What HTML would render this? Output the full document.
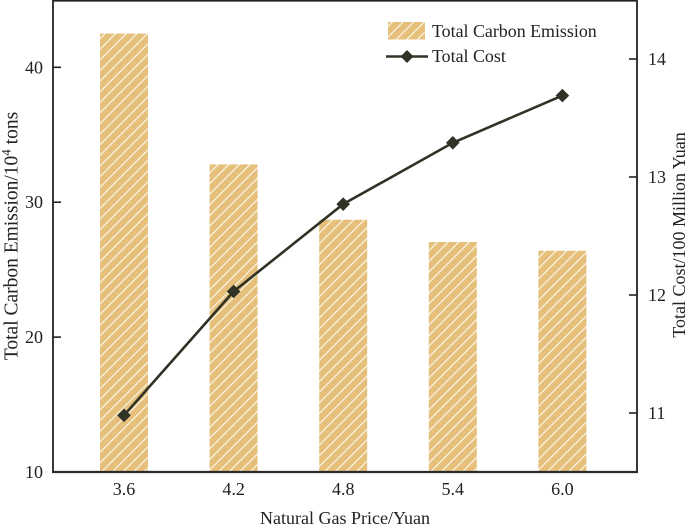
<!DOCTYPE html>
<html>
<head>
<meta charset="utf-8">
<style>
html,body{margin:0;padding:0;background:#fff;width:685px;height:525px;overflow:hidden}
svg{display:block}
text{font-family:"Liberation Serif",serif;fill:#222}
</style>
</head>
<body>
<svg id="chart" width="685" height="525" viewBox="0 0 685 525" xmlns="http://www.w3.org/2000/svg">
<defs>
<pattern id="hatch" patternUnits="userSpaceOnUse" width="10" height="10" patternTransform="rotate(45) scale(0.75)">
<rect width="10" height="10" fill="#e6c07b"/>
<rect x="0" y="0" width="1.5" height="10" fill="#fdf8ee"/>
</pattern>
</defs>
<g id="bars"></g>
<g id="line"></g>
<path d="M53 472V0.7H637V472" fill="none" stroke="#222" stroke-width="1.8"/>
<line x1="52" x2="638" y1="472" y2="472" stroke="#2a2a2a" stroke-width="2.2"/>
<g id="axes"></g>
<text x="345" y="524" font-size="18" text-anchor="middle">Natural Gas Price/Yuan</text>
<text transform="translate(17.5,236) rotate(-90)" font-size="19.5" text-anchor="middle">Total Carbon Emission/10<tspan dy="-7" font-size="13">4</tspan><tspan dy="7"> tons</tspan></text>
<text transform="translate(685,235) rotate(-90)" font-size="18" text-anchor="middle">Total Cost/100 Million Yuan</text>
<g>
<rect x="388" y="22" width="37" height="17.5" fill="url(#hatch)"/>
<text x="432" y="37" font-size="17.9">Total Carbon Emission</text>
<line x1="386" x2="428" y1="56.5" y2="56.5" stroke="#2f3326" stroke-width="2.4"/>
<path d="M407 50L413.5 56.5L407 63L400.5 56.5Z" fill="#2f3326"/>
<text x="432" y="62" font-size="17.9">Total Cost</text>
</g>
</svg>
<script>
const categories = ["3.6", "4.2", "4.8", "5.4", "6.0"];
const emissionValues = [42.5, 32.8, 28.7, 27.05, 26.4];
const costValues = [10.98, 12.03, 12.77, 13.29, 13.69];
const leftTicks = [10, 20, 30, 40];
const rightTicks = [11, 12, 13, 14];

const NS = 'http://www.w3.org/2000/svg';
const xScale = i => 124 + i * 109.6;
const yLeft = v => 472 - (v - 10) * 13.49;
const yRight = v => 413 - (v - 11) * 118;
const barWidth = 48;

function mk(tag, attrs, parent, txt) {
  const el = document.createElementNS(NS, tag);
  for (const k in attrs) el.setAttribute(k, attrs[k]);
  if (txt !== undefined) el.textContent = txt;
  parent.appendChild(el);
  return el;
}

const barsG = document.getElementById('bars');
emissionValues.forEach((v, i) => {
  const b = mk('rect', {x: xScale(i) - barWidth / 2, y: yLeft(v), width: barWidth, height: 472 - yLeft(v), fill: 'url(#hatch)'}, barsG);
  
  
});

const lineG = document.getElementById('line');
const polyline = mk('polyline', {points: costValues.map((v, i) => xScale(i) + ',' + yRight(v)).join(' '), fill: 'none', stroke: '#2f3326', 'stroke-width': 2.6}, lineG);


costValues.forEach((v, i) => {
  const x = xScale(i), y = yRight(v), r = 6.8;
  const m = mk('path', {d: `M${x} ${y - r}L${x + r} ${y}L${x} ${y + r}L${x - r} ${y}Z`, fill: '#2f3326'}, lineG);
  
  
});

const axesG = document.getElementById('axes');
leftTicks.forEach(v => {
  const y = yLeft(v);
  if (v !== 10) {
    const t = mk('line', {x1: 53, x2: 61, y1: y, y2: y, stroke: '#222', 'stroke-width': 1.6}, axesG);
    
    
  }
  const l = mk('text', {x: 43, y: y + 6, 'font-size': 18, 'text-anchor': 'end'}, axesG, String(v));
  
  
});
rightTicks.forEach(v => {
  const y = yRight(v);
  const t = mk('line', {x1: 629, x2: 637, y1: y, y2: y, stroke: '#222', 'stroke-width': 1.6}, axesG);
  
  
  const l = mk('text', {x: 648, y: y + 6, 'font-size': 18}, axesG, String(v));
  
  
});
categories.forEach((c, i) => {
  const l = mk('text', {x: xScale(i), y: 495, 'font-size': 18, 'text-anchor': 'middle'}, axesG, c);
  
  
});
</script>
</body>
</html>
